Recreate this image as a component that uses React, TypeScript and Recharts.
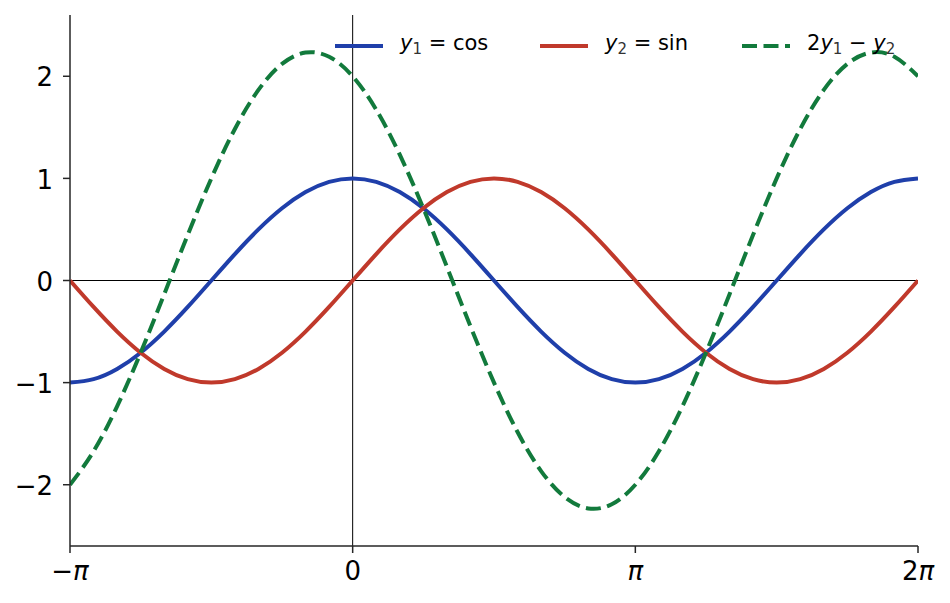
import React from 'react'
import { LineChart, Line, XAxis, YAxis, ReferenceLine, Legend } from 'recharts'

// sample points, every pi/12 from -pi to 2pi
const xs = [
  -3.1416, -2.8798, -2.618, -2.3562, -2.0944, -1.8326, -1.5708, -1.309, -1.0472, -0.7854, -0.5236, -0.2618,
  0, 0.2618, 0.5236, 0.7854, 1.0472, 1.309, 1.5708, 1.8326, 2.0944, 2.3562, 2.618, 2.8798,
  3.1416, 3.4034, 3.6652, 3.927, 4.1888, 4.4506, 4.7124, 4.9742, 5.236, 5.4978, 5.7596, 6.0214, 6.2832,
]
const cosVals = [
  -1, -0.966, -0.866, -0.707, -0.5, -0.259, 0, 0.259, 0.5, 0.707, 0.866, 0.966,
  1, 0.966, 0.866, 0.707, 0.5, 0.259, 0, -0.259, -0.5, -0.707, -0.866, -0.966,
  -1, -0.966, -0.866, -0.707, -0.5, -0.259, 0, 0.259, 0.5, 0.707, 0.866, 0.966, 1,
]
const sinVals = [
  0, -0.259, -0.5, -0.707, -0.866, -0.966, -1, -0.966, -0.866, -0.707, -0.5, -0.259,
  0, 0.259, 0.5, 0.707, 0.866, 0.966, 1, 0.966, 0.866, 0.707, 0.5, 0.259,
  0, -0.259, -0.5, -0.707, -0.866, -0.966, -1, -0.966, -0.866, -0.707, -0.5, -0.259, 0,
]
const comboVals = [
  -2, -1.673, -1.232, -0.707, -0.134, 0.448, 1, 1.484, 1.866, 2.121, 2.232, 2.191,
  2, 1.673, 1.232, 0.707, 0.134, -0.448, -1, -1.484, -1.866, -2.121, -2.232, -2.191,
  -2, -1.673, -1.232, -0.707, -0.134, 0.448, 1, 1.484, 1.866, 2.121, 2.232, 2.191, 2,
]

const xTicks = [-3.14159, 0, 3.14159, 6.28319]
const xTickLabels = ['-', '0', '', '2']
const yTicks = [-2, -1, 0, 1, 2]

const BLUE = '#1f3faa'
const RED = '#c0392b'
const GREEN = '#127a3c'
const AXIS = '#262626'
const FONT = 'DejaVu Sans'
const LW = 4
const DASH = '15 6.5'

const data = xs.map((x, i) => ({ x, cos: cosVals[i], sin: sinVals[i], combo: comboVals[i] }))

function XTick(props: any) {
  const { x, y, index } = props
  const pre = xTickLabels[index]
  return (
    <text x={x} y={y + 25} textAnchor="middle" fontFamily={FONT} fontSize={26} fill="#000">
      {pre === '0' ? (
        '0'
      ) : (
        <>
          {pre === '-' ? '−' : pre}
          <tspan fontStyle="italic">π</tspan>
        </>
      )}
    </text>
  )
}

const sub = { fontSize: 15, verticalAlign: '-4px', color: '#333' }

function LegendContent() {
  const items = [
    { color: BLUE, dash: undefined, left: 335, label: <><i>y</i><span style={sub}>1</span> = cos</> },
    { color: RED, dash: undefined, left: 540, label: <><i>y</i><span style={sub}>2</span> = sin</> },
    {
      color: GREEN,
      dash: DASH,
      left: 742,
      label: <>2<i>y</i><span style={sub}>1</span> − <i>y</i><span style={sub}>2</span></>,
    },
  ]
  return (
    <div style={{ position: 'relative', width: 950, height: 0, fontFamily: FONT, fontSize: 21 }}>
      {items.map((it, i) => (
        <div key={i} style={{ position: 'absolute', left: it.left, top: 31, display: 'flex', alignItems: 'center', height: 30 }}>
          <svg width={48} height={10} style={{ marginRight: 17 }}>
            <line x1={0} y1={5} x2={48} y2={5} stroke={it.color} strokeWidth={LW} strokeDasharray={it.dash} />
          </svg>
          <span style={{ lineHeight: '21px', whiteSpace: 'nowrap' }}>{it.label}</span>
        </div>
      ))}
    </div>
  )
}

export default function App() {
  return (
    <div style={{ position: 'absolute', left: 0, top: 0, background: '#fff' }}>
      <LineChart width={950} height={603} data={data} margin={{ top: 15, right: 32, bottom: 27, left: 10 }}>
        <XAxis
          dataKey="x"
          type="number"
          domain={[-3.14159, 6.28319]}
          allowDataOverflow
          ticks={xTicks}
          tick={<XTick />}
          tickSize={7}
          height={30}
          stroke={AXIS}
          strokeWidth={1.5}
          interval={0}
        />
        <YAxis
          type="number"
          domain={[-2.6, 2.6]}
          allowDataOverflow
          ticks={yTicks}
          tickFormatter={(v: number) => (v < 0 ? '−' + Math.abs(v) : String(v))}
          tick={{ fontFamily: FONT, fontSize: 26, fill: '#000', dy: 1 }}
          tickSize={7}
          tickMargin={10}
          width={60}
          stroke={AXIS}
          strokeWidth={1.5}
          interval={0}
        />
        <ReferenceLine y={0} stroke="#000" strokeWidth={1} />
        <ReferenceLine x={0} stroke="#000" strokeWidth={1} />
        <Line dataKey="cos" type="natural" stroke={BLUE} strokeWidth={LW} dot={false} isAnimationActive={false} />
        <Line dataKey="sin" type="natural" stroke={RED} strokeWidth={LW} dot={false} isAnimationActive={false} />
        <Line
          dataKey="combo"
          type="natural"
          stroke={GREEN}
          strokeWidth={LW}
          strokeDasharray={DASH}
          dot={false}
          isAnimationActive={false}
        />
        <Legend content={<LegendContent />} wrapperStyle={{ left: 0, top: 0, width: 950 }} />
      </LineChart>
    </div>
  )
}
